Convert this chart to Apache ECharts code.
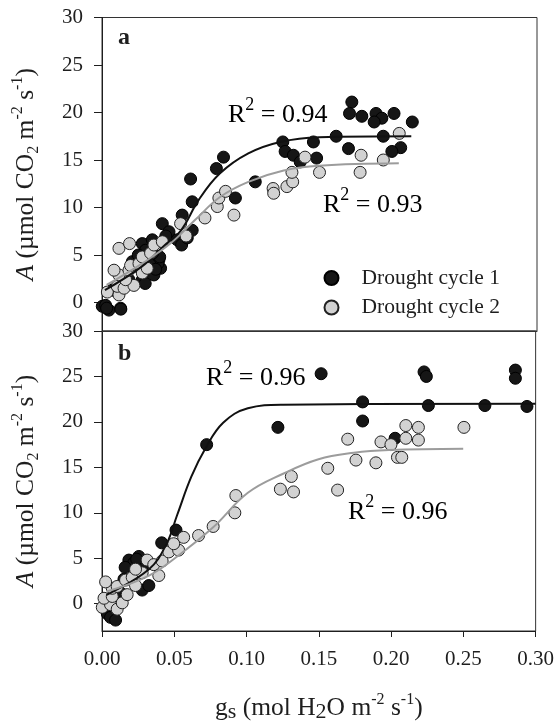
<!DOCTYPE html>
<html>
<head>
<meta charset="utf-8">
<script src="https://cdn.jsdelivr.net/npm/echarts@6/dist/echarts.min.js"></script>
<style>
html,body{margin:0;padding:0;background:#fff;}
#chart{width:557px;height:727px;}
</style>
</head>
<body>
<div id="chart"></div>
<script>
// ---------------- data ----------------
const seriesNames = ['Drought cycle 1', 'Drought cycle 2'];
const xTickValues = [0, 0.05, 0.10, 0.15, 0.20, 0.25, 0.30];
const yTickValues = [0, 5, 10, 15, 20, 25, 30];

// Panel a, drought cycle 1 (gs, A)
const aCycle1 = [
  [0.0002,-0.4],[0.0025,-0.3],[0.0048,-0.8],[0.0032,-0.6],[0.0128,-0.6],[0.013,-0.7],
  [0.0071,1.3],[0.014,1.7],[0.0186,2.4],[0.0278,2.4],[0.0298,2.0],[0.0209,4.3],
  [0.0243,3.8],[0.0278,6.2],[0.0358,2.9],[0.0404,3.6],[0.0393,4.5],[0.0386,4.1],
  [0.0398,4.8],[0.0349,5.2],[0.0347,6.6],[0.0416,8.3],[0.0462,7.45],[0.0519,6.6],
  [0.0549,6.05],[0.0588,6.8],[0.0622,7.6],[0.0553,9.2],[0.0622,10.6],[0.0611,13.0],
  [0.0789,14.1],[0.0838,15.3],[0.092,11.0],[0.1057,12.7],[0.1247,16.9],[0.1263,15.9],
  [0.132,15.5],[0.1367,14.8],[0.1458,16.9],[0.148,15.2],[0.1615,17.5],[0.170,16.2],
  [0.1723,21.1],[0.1707,19.9],[0.1792,19.6],[0.189,19.9],[0.193,19.4],[0.1877,19.0],
  [0.2014,19.9],[0.214,19.0],[0.194,17.5],[0.206,16.3],[0.1999,15.9],
  [0.030,5.5],[0.033,4.0],[0.037,3.5],[0.025,5.0],[0.044,7.0]
];
// Panel a, drought cycle 2
const aCycle2 = [
  [0.0037,1.1],[0.0117,0.8],[0.0105,1.7],[0.0152,1.5],[0.022,1.8],[0.0163,2.4],
  [0.0117,2.9],[0.0083,3.4],[0.0186,3.4],[0.0197,3.9],[0.0255,4.1],[0.0278,3.1],
  [0.0312,3.6],[0.0278,4.8],[0.0335,5.2],[0.0117,5.7],[0.019,6.2],[0.0358,6.05],
  [0.0416,6.4],[0.0542,8.3],[0.058,7.0],[0.071,8.9],[0.0795,10.1],[0.0806,11.0],
  [0.0852,11.7],[0.091,9.2],[0.118,12.0],[0.1184,11.5],[0.1275,12.2],[0.1315,12.7],
  [0.131,13.7],[0.140,15.3],[0.150,13.7],[0.1787,15.5],[0.178,13.7],[0.194,15.0],
  [0.205,17.8]
];
// Panel a fitted curves
const aFit1 = [
  [0.002,1.3],[0.0276,3.8],[0.0423,5.9],[0.0545,7.6],[0.0667,10.8],[0.0814,13.6],
  [0.1009,15.7],[0.1229,16.9],[0.1498,17.4],[0.2133,17.5]
];
const aFit2 = [
  [0.0032,1.85],[0.0276,4.1],[0.0471,6.2],[0.0643,8.7],[0.0814,11.1],[0.1009,12.7],
  [0.1253,13.9],[0.1498,14.4],[0.2047,14.65]
];
// Panel b, drought cycle 1
const bCycle1 = [
  [0.0037,-1.1],[0.0059,-1.5],[0.0094,-1.8],[0.0128,1.2],[0.0152,2.7],[0.0278,1.5],
  [0.0324,2.0],[0.0186,4.8],[0.022,4.5],[0.0255,5.2],[0.0289,4.3],[0.016,4.0],
  [0.024,4.9],[0.0413,6.7],[0.0512,8.1],[0.0724,17.5],[0.1217,19.4],[0.1516,25.3],
  [0.1803,22.2],[0.1803,20.1],[0.2028,18.2],[0.2228,25.5],[0.2244,25.0],[0.2258,21.8],
  [0.2649,21.8],[0.286,25.7],[0.286,24.8],[0.294,21.7]
];
// Panel b, drought cycle 2
const bCycle2 = [
  [0.0002,-0.4],[0.0059,-0.1],[0.0105,-0.6],[0.014,0.1],[0.0014,0.6],[0.0071,0.8],
  [0.0174,1.0],[0.0071,1.7],[0.0105,1.9],[0.0025,2.4],[0.0163,2.6],[0.0209,2.9],
  [0.0232,2.0],[0.0278,3.4],[0.0232,3.8],[0.0312,4.8],[0.0358,4.3],[0.0393,3.1],
  [0.0416,4.7],[0.0462,5.7],[0.053,5.9],[0.0496,6.6],[0.0565,7.3],[0.0668,7.5],
  [0.0769,8.5],[0.0919,10.0],[0.0926,11.9],[0.1234,12.6],[0.1325,12.3],[0.131,14.0],
  [0.1562,14.9],[0.163,12.5],[0.1757,15.8],[0.1895,15.5],[0.2044,16.1],[0.2074,16.1],
  [0.170,18.1],[0.193,17.8],[0.1999,17.5],[0.2102,18.2],[0.2189,18.0],[0.2102,19.6],
  [0.2189,19.4],[0.2504,19.4]
];
// Panel b fitted curves
const bFit1 = [
  [0.0032,0.98],[0.0325,3.8],[0.0447,6.6],[0.052,9.76],[0.0618,13.97],[0.0716,17.1],
  [0.0838,19.9],[0.1009,21.5],[0.1253,21.9],[0.30,22.0]
];
const bFit2 = [
  [0.0032,1.34],[0.0325,3.1],[0.052,5.2],[0.0765,8.35],[0.1009,12.2],[0.1253,14.3],
  [0.1498,15.9],[0.1742,16.6],[0.1986,16.9],[0.2499,17.05]
];
const panelLetters = ['a', 'b'];
const r2Labels = ['0.94', '0.93', '0.96', '0.96'];

// ---------------- chart ----------------
const FONT = 'Liberation Serif';
const INK = '#1e1e1e';
const chart = echarts.init(document.getElementById('chart'));

const gridL = 102, gridW = 435, gridH = 313.5;
const grids = [
  {left: gridL, top: 17.5, width: gridW, height: gridH, show: true, borderColor: '#333', borderWidth: 1},
  {left: gridL, top: 331, width: gridW, height: gridH, show: true, borderColor: '#333', borderWidth: 1}
];

const TS = 25.5;
const richAxis = {
  n: {fontFamily: FONT, fontSize: TS, color: INK, verticalAlign: 'middle', lineHeight: 36},
  i: {fontFamily: FONT, fontSize: TS, color: INK, fontStyle: 'italic', verticalAlign: 'middle', lineHeight: 36},
  sup: {fontFamily: FONT, fontSize: 16, color: INK, verticalAlign: 'top', lineHeight: 36, padding: [2,0,0,0]},
  sub: {fontFamily: FONT, fontSize: 16, color: INK, verticalAlign: 'bottom', lineHeight: 36, padding: [0,0,2,0]},
  subs: {fontFamily: FONT, fontSize: 22, color: INK, verticalAlign: 'bottom', lineHeight: 36, padding: [0,0,3,0]}
};
const yNameA = '{i|A}{n| (µmol CO}{sub|2}{n| m}{sup|-2}{n| s}{sup|-1}{n|)}';
const yNameB = '{i|A}{n| (µmol CO}{sub|2}{n| m}{sup|-2}{n| s}{sup|-1}{n|)}';
const xName = '{n|g}{subs|s}{n| (mol H}{subs|2}{n|O m}{sup|-2}{n| s}{sup|-1}{n|)}';

function yAxis(idx, name) {
  return {
    gridIndex: idx, type: 'value', min: -3, max: 30,
    name: name, nameLocation: 'middle', nameRotate: 90, nameGap: 58,
    nameTextStyle: {rich: richAxis},
    axisLine: {show: true, onZero: false, lineStyle: {color: INK, width: 1}},
    axisTick: {show: true, inside: false, length: 8, customValues: yTickValues, lineStyle: {color: INK}},
    axisLabel: {customValues: yTickValues, fontFamily: FONT, fontSize: 21, color: INK, margin: 19},
    splitLine: {show: false}
  };
}

const option = {
  animation: false,
  backgroundColor: '#fff',
  grid: grids,
  xAxis: [
    {gridIndex: 0, type: 'value', min: 0, max: 0.30, interval: 0.05,
     axisLine: {show: true, onZero: false, lineStyle: {color: '#333'}}, axisTick: {show: false},
     axisLabel: {show: false}, splitLine: {show: false}},
    {gridIndex: 1, type: 'value', min: 0, max: 0.30, interval: 0.05,
     name: xName, nameLocation: 'middle', nameGap: 59,
     nameTextStyle: {rich: richAxis},
     axisLine: {show: true, onZero: false, lineStyle: {color: INK}},
     axisTick: {show: true, inside: false, length: 6, lineStyle: {color: INK}},
     axisLabel: {fontFamily: FONT, fontSize: 21, color: INK, margin: 18,
       formatter: v => v.toFixed(2)},
     splitLine: {show: false}}
  ],
  yAxis: [yAxis(0, yNameA), yAxis(1, yNameB)],
  legend: {
    data: seriesNames,
    orient: 'vertical',
    left: 318.5, top: 262,
    itemWidth: 14, itemHeight: 14, itemGap: 7.5,
    icon: 'circle',
    textStyle: {fontFamily: FONT, fontSize: 21.5, color: INK, padding: [0,0,0,18]},
    selectedMode: false
  },
  series: [
    {name: seriesNames[0], type: 'scatter', xAxisIndex: 0, yAxisIndex: 0, data: aCycle1,
     symbolSize: 12, itemStyle: {color: '#161616', borderColor: '#000', borderWidth: 1, opacity: 1}, z: 2},
    {name: seriesNames[1], type: 'scatter', xAxisIndex: 0, yAxisIndex: 0, data: aCycle2,
     symbolSize: 12, itemStyle: {color: '#d2d2d2', borderColor: '#222', borderWidth: 1, opacity: 1}, z: 3},
    {name: 'fit a1', type: 'line', xAxisIndex: 0, yAxisIndex: 0, data: aFit1, smooth: 0.4,
     showSymbol: false, lineStyle: {color: '#111', width: 2}, z: 4},
    {name: 'fit a2', type: 'line', xAxisIndex: 0, yAxisIndex: 0, data: aFit2, smooth: 0.4,
     showSymbol: false, lineStyle: {color: '#9c9c9c', width: 2}, z: 4},
    {name: seriesNames[0], type: 'scatter', xAxisIndex: 1, yAxisIndex: 1, data: bCycle1,
     symbolSize: 12, itemStyle: {color: '#161616', borderColor: '#000', borderWidth: 1, opacity: 1}, z: 2},
    {name: seriesNames[1], type: 'scatter', xAxisIndex: 1, yAxisIndex: 1, data: bCycle2,
     symbolSize: 12, itemStyle: {color: '#d2d2d2', borderColor: '#222', borderWidth: 1, opacity: 1}, z: 3},
    {name: 'fit b1', type: 'line', xAxisIndex: 1, yAxisIndex: 1, data: bFit1, smooth: 0.4,
     showSymbol: false, lineStyle: {color: '#111', width: 2}, z: 4},
    {name: 'fit b2', type: 'line', xAxisIndex: 1, yAxisIndex: 1, data: bFit2, smooth: 0.4,
     showSymbol: false, lineStyle: {color: '#9c9c9c', width: 2}, z: 4}
  ],
  graphic: []
};

const richR2 = {
  r: {fontFamily: FONT, fontSize: 26, color: INK, verticalAlign: 'bottom', lineHeight: 32},
  s: {fontFamily: FONT, fontSize: 18, color: INK, verticalAlign: 'top', lineHeight: 32}
};
function r2Text(x, y, val) {
  return {type: 'text', left: x, top: y, z: 10,
    style: {text: '{r|R}{s|2}{r| = ' + val + '}', rich: richR2}};
}
option.graphic = [
  r2Text(228, 96, r2Labels[0]),
  r2Text(323, 186, r2Labels[1]),
  r2Text(206, 359, r2Labels[2]),
  r2Text(348, 493, r2Labels[3]),
  {type: 'text', left: 118, top: 26, z: 10,
   style: {text: panelLetters[0], font: 'bold 24px "Liberation Serif"', fill: INK}},
  {type: 'text', left: 118, top: 342, z: 10,
   style: {text: panelLetters[1], font: 'bold 24px "Liberation Serif"', fill: INK}}
];

chart.setOption(option);
</script>
</body>
</html>
